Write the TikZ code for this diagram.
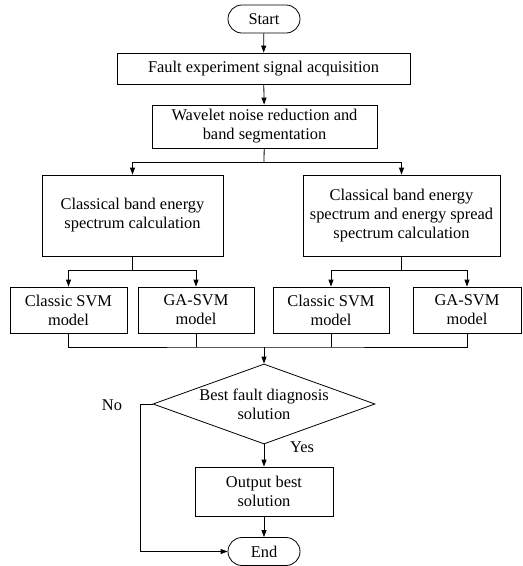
\documentclass[tikz,border=0pt]{standalone}
\usepackage{fontspec}
\setmainfont{Liberation Serif}
\usetikzlibrary{shapes.geometric,arrows.meta}

\tikzset{
  box/.style={draw, align=center, inner sep=0pt},
  term/.style={draw, rounded corners=14pt, minimum width=72pt, minimum height=28pt, inner sep=0pt},
  choice/.style={draw, diamond, align=center, aspect=2.8, inner xsep=-4pt, inner ysep=0pt, minimum width=222pt, minimum height=80pt},
  arr/.style={-{Triangle[length=7pt,width=5pt]}},
}

\begin{document}
\begin{tikzpicture}[x=1pt,y=-1pt,font=\fontsize{16.4}{19}\selectfont,line width=0.8pt]
	\useasboundingbox (0,0) rectangle (523,566);
	\node[term] (start) at (264,19) {Start};
	\node[box,minimum width=293pt,minimum height=31pt] (acq) at (263.5,68.5) {Fault experiment signal acquisition};
	\node[box,minimum width=225pt,minimum height=43pt] (wav) at (264.5,126.5) {Wavelet noise reduction and\\band segmentation};
	\node[box,minimum width=181pt,minimum height=81pt] (cbe) at (132.5,215.5) {Classical band energy\\spectrum calculation};
	\node[box,minimum width=197pt,minimum height=81pt] (cbs) at (401.5,215.5) {Classical band energy\\spectrum and energy spread\\spectrum calculation};
	\node[box,minimum width=117pt,minimum height=46pt] (svma) at (68.5,310) {Classic SVM\\model};
	\node[box,minimum width=116pt,minimum height=46pt] (gaa) at (196,310) {GA-SVM\\model};
	\node[box,minimum width=116pt,minimum height=46pt] (svmb) at (331,310) {Classic SVM\\model};
	\node[box,minimum width=108pt,minimum height=46pt] (gab) at (467,310) {GA-SVM\\model};
	\node[choice] (best) at (264,404) {Best fault diagnosis\\solution};
	\node[box,minimum width=138pt,minimum height=49pt] (out) at (264,491.5) {Output best\\solution};
	\node[term] (end) at (264,551.5) {End};
	\node (no) at (112,405) {No};
	\node (yes) at (302,447) {Yes};
	\coordinate (split) at (264,162);
	\coordinate (splita) at (132.5,270);
	\coordinate (splitb) at (401.5,270);
	\coordinate (merge) at (264,347);
	\coordinate (back) at (140,404);
	\draw[arr] (start) -- (acq);
	\draw[arr] (acq) -- (wav);
	\draw (wav) -- (split);
	\draw[arr] (split) -| (cbe);
	\draw[arr] (split) -| (cbs);
	\draw (cbe) -- (splita);
	\draw[arr] (splita) -| (svma);
	\draw[arr] (splita) -| (gaa);
	\draw (cbs) -- (splitb);
	\draw[arr] (splitb) -| (svmb);
	\draw[arr] (splitb) -| (gab);
	\draw (svma) |- (merge) -| (gab);
	\draw (gaa) -- (gaa.south |- merge);
	\draw (svmb) -- (svmb.south |- merge);
	\draw[arr] (merge) -- (best);
	\draw[arr] (best) -- (out);
	\draw[arr] (out) -- (end);
	\draw[arr] (best.west) -- (back) |- (end);
\end{tikzpicture}
\end{document}
